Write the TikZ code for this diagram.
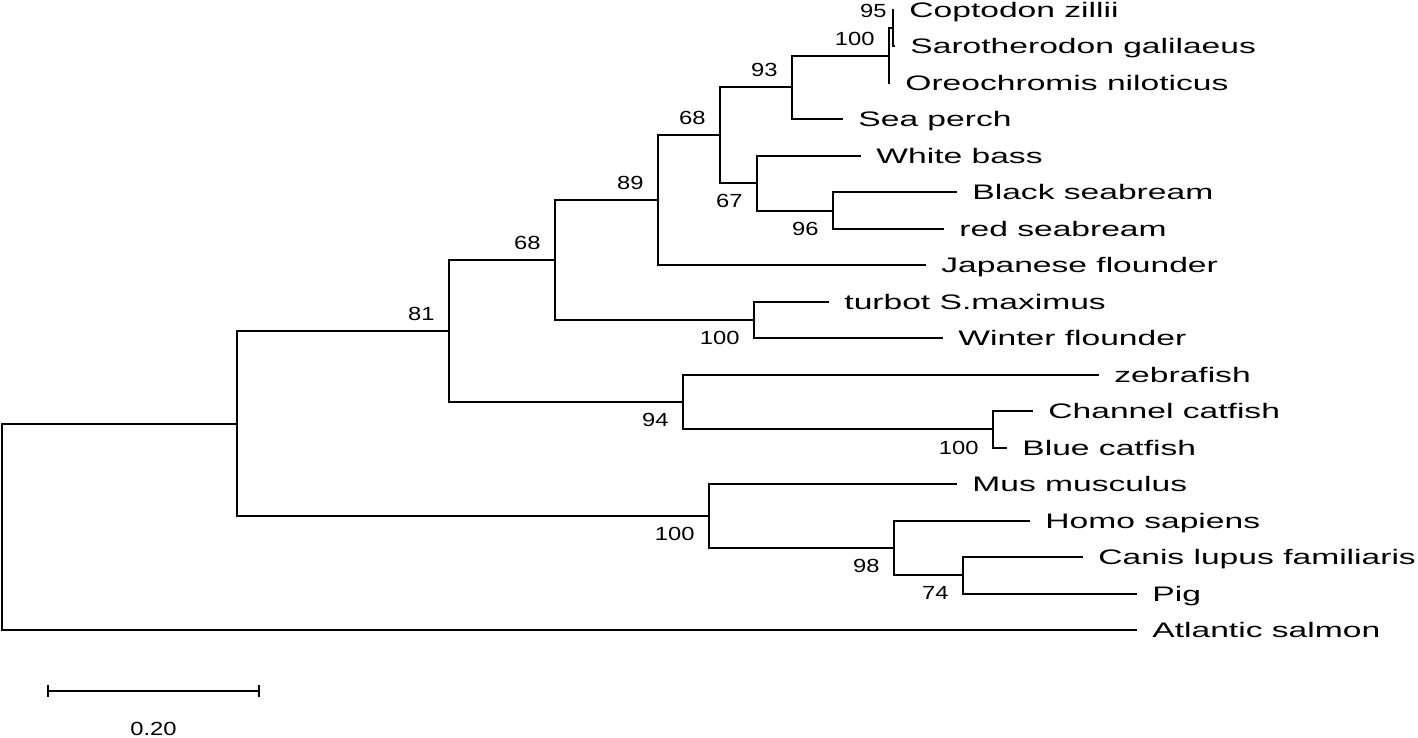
\documentclass[tikz,border=0pt]{standalone}
\usepackage{fontspec}
\setmainfont{Liberation Sans}[FakeStretch=1.6]
\newfontfamily\bootfont{Liberation Sans}[FakeStretch=1.25]
\usetikzlibrary{positioning}
\usetikzlibrary{calc}

\tikzset{
  branch/.style={line width=1pt},
  taxon/.style={anchor=base west, inner sep=0pt, xshift=7.5pt, yshift=-3.75pt,
    font=\fontsize{10.5}{12}\selectfont},
  bootup/.style={anchor=south east, inner sep=0pt, xshift=-7pt, yshift=5pt,
    font=\bootfont\fontsize{9.5}{11}\selectfont},
  bootdown/.style={anchor=north east, inner sep=0pt, xshift=-7pt, yshift=-5.5pt,
    font=\bootfont\fontsize{9.5}{11}\selectfont},
}

\begin{document}
\begin{tikzpicture}[x=0.5pt, y=-0.5pt]
    \useasboundingbox (0,0) rectangle (1418,738);

    % Define the coordinates of the tips
    \coordinate (coptodon) at (894,10);
    \coordinate (sarotherodon) at (895,46.5);
    \coordinate (oreochromis) at (890,82.9);
    \coordinate (seaperch) at (843,119.4);
    \coordinate (whitebass) at (861,155.9);
    \coordinate (blackbream) at (957,192.4);
    \coordinate (redbream) at (944,228.8);
    \coordinate (japflounder) at (926,265.3);
    \coordinate (turbot) at (829,301.8);
    \coordinate (winterflounder) at (943,338.2);
    \coordinate (zebrafish) at (1099,374.7);
    \coordinate (channel) at (1033,411.2);
    \coordinate (blue) at (1007,447.6);
    \coordinate (mus) at (957,484.1);
    \coordinate (homo) at (1030,520.6);
    \coordinate (canis) at (1083,557.1);
    \coordinate (pig) at (1137,593.5);
    \coordinate (salmon) at (1137,630);

    % Define the coordinates of the inner nodes
    \coordinate (n95) at (893,28.2);
    \coordinate (n100a) at (889,55.6);
    \coordinate (n93) at (792,87.5);
    \coordinate (n96) at (833,210.6);
    \coordinate (n67) at (757,183.3);
    \coordinate (n68b) at (720,135.4);
    \coordinate (n89) at (658,200.3);
    \coordinate (n100b) at (754,320);
    \coordinate (n68a) at (555,260.2);
    \coordinate (n100c) at (993,429.4);
    \coordinate (n94) at (683,402);
    \coordinate (n81) at (449,331.1);
    \coordinate (n74) at (963,575.3);
    \coordinate (n98) at (894,548);
    \coordinate (n100d) at (709,516);
    \coordinate (nA) at (237,423.6);
    \coordinate (root) at (2,526.8);

    % Draw the lines
    \foreach \from/\to in {n95/coptodon, n95/sarotherodon, n100a/n95, n100a/oreochromis,
        n93/n100a, n93/seaperch, n96/blackbream, n96/redbream, n67/whitebass, n67/n96,
        n68b/n93, n68b/n67, n89/n68b, n89/japflounder, n100b/turbot, n100b/winterflounder,
        n68a/n89, n68a/n100b, n100c/channel, n100c/blue, n94/zebrafish, n94/n100c,
        n81/n68a, n81/n94, n74/canis, n74/pig, n98/homo, n98/n74, n100d/mus, n100d/n98,
        nA/n81, nA/n100d, root/nA, root/salmon}
    \draw[branch] (\from) |- (\to);

    % Names of the species
    \foreach \point/\txt in {coptodon/{Coptodon zillii}, sarotherodon/{Sarotherodon galilaeus},
        oreochromis/{Oreochromis niloticus}, seaperch/{Sea perch}, whitebass/{White bass},
        blackbream/{Black seabream}, redbream/{red seabream}, japflounder/{Japanese flounder},
        turbot/{turbot S.maximus}, winterflounder/{Winter flounder}, zebrafish/zebrafish,
        channel/{Channel catfish}, blue/{Blue catfish}, mus/{Mus musculus},
        homo/{Homo sapiens}, canis/{Canis lupus familiaris}, pig/Pig, salmon/{Atlantic salmon}}
    \node[taxon] (l\point) at (\point) {\txt};

    % Bootstrap values
    \node[bootup, xshift=4pt] (b95) at (n95) {95};
    \foreach \point/\txt in {n100a/100, n93/93, n68b/68, n89/89, n68a/68, n81/81}
    \node[bootup] (b\point) at (\point) {\txt};
    \foreach \point/\txt in {n67/67, n96/96, n100b/100, n94/94, n100c/100, n100d/100, n98/98, n74/74}
    \node[bootdown] (b\point) at (\point) {\txt};

    % Scale bar
    \coordinate (sbl) at (48,691);
    \coordinate (sbr) at (259,691);
    \draw[branch] (sbl) -- (sbr);
    \draw[branch] ($(sbl)+(0,-6)$) -- ($(sbl)+(0,6)$);
    \draw[branch] ($(sbr)+(0,-6)$) -- ($(sbr)+(0,6)$);
    \node[inner sep=0pt, font=\bootfont\fontsize{9.5}{11}\selectfont] (scale) at ($(sbl)!0.5!(sbr)+(0,38)$) {0.20};
\end{tikzpicture}
\end{document}
